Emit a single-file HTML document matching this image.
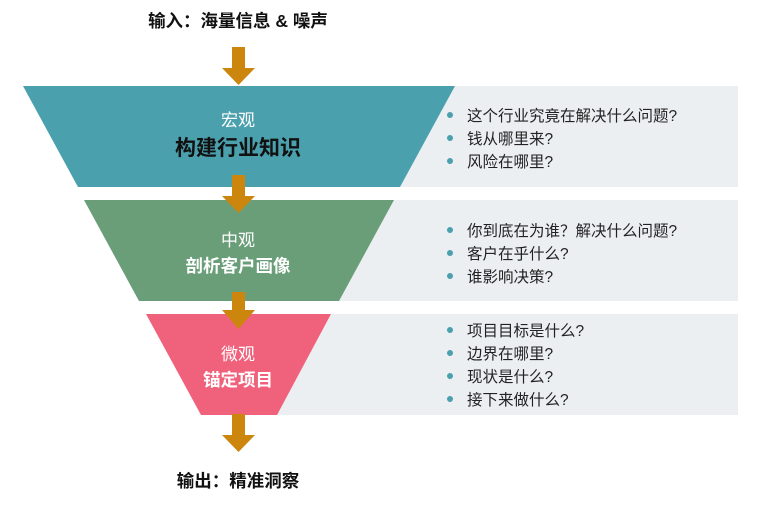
<!DOCTYPE html>
<html><head><meta charset="utf-8"><style>
html,body{margin:0;padding:0;background:#fff;width:775px;height:508px;overflow:hidden}
svg text{font-family:"Liberation Sans","Noto Sans CJK SC",sans-serif}
</style></head><body>
<svg width="775" height="508" viewBox="0 0 775 508" xmlns="http://www.w3.org/2000/svg">
<rect x="390" y="86" width="348" height="101" fill="#eceff2"/>
<rect x="330" y="200" width="408" height="101" fill="#eceff2"/>
<rect x="270" y="314" width="468" height="101" fill="#eceff2"/>
<polygon points="23,86 455,86 400,187 78,187" fill="#4aa0ad"/>
<polygon points="84,200 394,200 339,301 139,301" fill="#6a9e78"/>
<polygon points="146,314 331,314 277,415 201,415" fill="#f0627c"/>
<g fill="#cc850d">
<rect x="232" y="47" width="13" height="22"/><polygon points="222,68 255,68 238.5,85"/>
<rect x="232" y="175" width="13" height="22"/><polygon points="222,196 255,196 238.5,213"/>
<rect x="232" y="292" width="13" height="22"/><polygon points="222,310 255,310 238.5,329"/>
<rect x="232" y="414" width="13" height="22"/><polygon points="222,435 255,435 238.5,452"/>
</g>
<g text-anchor="middle">
<text x="238" y="27" font-size="17.5" font-weight="bold" fill="#111">输入：海量信息 &amp; 噪声</text>
<text x="238" y="126" font-size="17" fill="#fff">宏观</text>
<text x="238" y="155" font-size="21" font-weight="bold" fill="#111">构建行业知识</text>
<text x="238" y="246" font-size="17" fill="#fff">中观</text>
<text x="238" y="272" font-size="17.5" font-weight="bold" fill="#fff">剖析客户画像</text>
<text x="238" y="360" font-size="17" fill="#fff">微观</text>
<text x="238" y="386" font-size="17.5" font-weight="bold" fill="#fff">锚定项目</text>
<text x="238" y="487" font-size="17.5" font-weight="bold" fill="#111">输出：精准洞察</text>
</g>
<g fill="#4aa0ad">
<circle cx="450" cy="115" r="3"/><circle cx="450" cy="138" r="3"/><circle cx="450" cy="161" r="3"/>
<circle cx="450" cy="230" r="3"/><circle cx="450" cy="253" r="3"/><circle cx="450" cy="276" r="3"/>
<circle cx="450" cy="330" r="3"/><circle cx="450" cy="353" r="3"/><circle cx="450" cy="376" r="3"/><circle cx="450" cy="399" r="3"/>
</g>
<g font-size="15.5" fill="#222">
<text x="467" y="121">这个行业究竟在解决什么问题?</text>
<text x="467" y="144">钱从哪里来?</text>
<text x="467" y="167">风险在哪里?</text>
<text x="467" y="236">你到底在为谁？解决什么问题?</text>
<text x="467" y="259">客户在乎什么?</text>
<text x="467" y="282">谁影响决策?</text>
<text x="467" y="336">项目目标是什么?</text>
<text x="467" y="359">边界在哪里?</text>
<text x="467" y="382">现状是什么?</text>
<text x="467" y="405">接下来做什么?</text>
</g>
</svg>
</body></html>
